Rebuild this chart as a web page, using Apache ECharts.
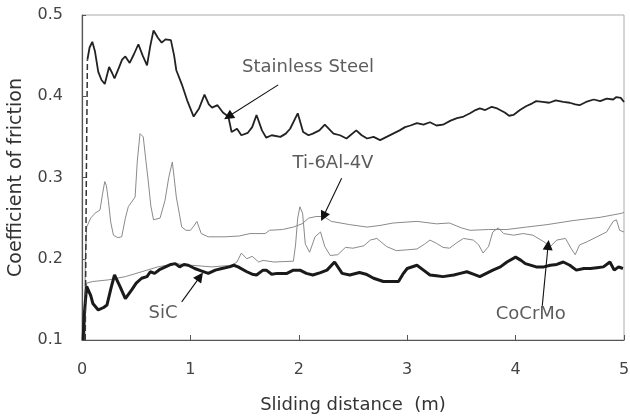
<!DOCTYPE html>
<html>
<head>
<meta charset="utf-8">
<script src="https://cdn.jsdelivr.net/npm/echarts@6/dist/echarts.min.js"></script>
<style>
  html, body { margin: 0; padding: 0; background: #fff; }
  #chart { width: 630px; height: 417px; }
</style>
</head>
<body>
<div id="chart"></div>
<script>
// 数据：滑动距离 (m) / 摩擦系数
const steelRunIn = [[0.03, 0.10], [0.04, 0.30], [0.05, 0.445]]

const stainlessSteel = [
  [0.05, 0.445], [0.07, 0.46], [0.095, 0.467], [0.12, 0.455], [0.15, 0.43], [0.18, 0.42],
  [0.21, 0.415], [0.25, 0.436], [0.28, 0.428], [0.30, 0.422], [0.34, 0.435], [0.37, 0.445],
  [0.40, 0.449], [0.44, 0.441], [0.48, 0.452], [0.52, 0.464], [0.56, 0.45], [0.60, 0.438],
  [0.63, 0.462], [0.66, 0.481], [0.70, 0.472], [0.735, 0.466], [0.77, 0.470], [0.82, 0.469],
  [0.85, 0.45], [0.87, 0.432], [0.92, 0.415], [0.97, 0.395], [1.03, 0.375], [1.08, 0.385],
  [1.13, 0.402], [1.17, 0.39], [1.20, 0.386], [1.25, 0.389], [1.30, 0.38], [1.35, 0.375],
  [1.38, 0.356], [1.43, 0.36], [1.47, 0.352], [1.53, 0.355], [1.57, 0.362], [1.61, 0.377],
  [1.66, 0.358], [1.70, 0.349], [1.75, 0.352], [1.83, 0.350], [1.88, 0.354], [1.92, 0.360],
  [1.99, 0.379], [2.04, 0.356], [2.09, 0.352], [2.13, 0.354], [2.19, 0.358], [2.24, 0.365],
  [2.32, 0.354], [2.38, 0.352], [2.44, 0.348], [2.53, 0.358], [2.58, 0.352], [2.63, 0.348],
  [2.69, 0.35], [2.75, 0.346], [2.81, 0.35], [2.87, 0.354], [2.93, 0.358], [2.98, 0.362],
  [3.03, 0.364], [3.09, 0.367], [3.15, 0.365], [3.21, 0.368], [3.27, 0.364], [3.33, 0.365],
  [3.40, 0.37], [3.46, 0.373], [3.52, 0.375], [3.58, 0.379], [3.63, 0.383], [3.67, 0.385],
  [3.72, 0.383], [3.78, 0.387], [3.83, 0.385], [3.90, 0.38], [3.94, 0.376], [3.98, 0.377],
  [4.04, 0.383], [4.10, 0.388], [4.15, 0.391], [4.19, 0.394], [4.25, 0.393], [4.31, 0.392],
  [4.37, 0.395], [4.44, 0.393], [4.50, 0.392], [4.55, 0.39], [4.59, 0.389], [4.65, 0.393],
  [4.72, 0.396], [4.78, 0.394], [4.84, 0.397], [4.90, 0.396], [4.93, 0.399], [4.97, 0.398],
  [5.0, 0.393]
]

const ti6al4v = [
  [0.025, 0.10], [0.03, 0.2], [0.043, 0.239], [0.08, 0.25], [0.12, 0.256], [0.166, 0.260],
  [0.19, 0.28], [0.21, 0.295], [0.225, 0.29], [0.243, 0.272], [0.265, 0.245], [0.29, 0.229],
  [0.33, 0.226], [0.366, 0.227], [0.40, 0.25], [0.427, 0.264], [0.458, 0.270], [0.49, 0.276],
  [0.51, 0.32], [0.535, 0.354], [0.565, 0.350], [0.59, 0.32], [0.61, 0.297], [0.635, 0.265],
  [0.66, 0.248], [0.72, 0.250], [0.766, 0.272], [0.80, 0.30], [0.833, 0.319], [0.85, 0.30],
  [0.87, 0.276], [0.92, 0.239], [0.96, 0.235], [1.0, 0.235], [1.03, 0.24], [1.06, 0.246],
  [1.10, 0.231], [1.165, 0.227], [1.32, 0.227], [1.45, 0.228], [1.55, 0.231], [1.69, 0.231],
  [1.73, 0.235], [1.85, 0.236], [1.95, 0.239], [2.03, 0.243], [2.09, 0.25], [2.16, 0.252],
  [2.23, 0.252], [2.30, 0.246], [2.47, 0.242], [2.63, 0.239], [2.75, 0.241], [2.87, 0.244],
  [3.09, 0.246], [3.27, 0.243], [3.39, 0.244], [3.50, 0.238], [3.58, 0.235], [3.75, 0.236],
  [3.92, 0.236], [4.10, 0.239], [4.29, 0.242], [4.53, 0.247], [4.78, 0.251], [4.98, 0.256],
  [5.0, 0.257]
]

const coCrMo = [
  [0.025, 0.10], [0.035, 0.16], [0.043, 0.170], [0.10, 0.172], [0.243, 0.174], [0.40, 0.178],
  [0.55, 0.184], [0.70, 0.190], [0.86, 0.194], [1.01, 0.192], [1.20, 0.190], [1.38, 0.192],
  [1.43, 0.196], [1.47, 0.207], [1.52, 0.200], [1.57, 0.203], [1.63, 0.196], [1.67, 0.198],
  [1.77, 0.196], [1.95, 0.197], [1.97, 0.217], [1.99, 0.25], [2.01, 0.264], [2.035, 0.256],
  [2.06, 0.218], [2.10, 0.208], [2.15, 0.227], [2.20, 0.233], [2.24, 0.215], [2.29, 0.204],
  [2.36, 0.205], [2.43, 0.214], [2.50, 0.213], [2.60, 0.216], [2.66, 0.223], [2.72, 0.225],
  [2.81, 0.215], [2.90, 0.21], [3.0, 0.211], [3.09, 0.212], [3.16, 0.218], [3.21, 0.223],
  [3.27, 0.219], [3.33, 0.214], [3.39, 0.213], [3.46, 0.22], [3.52, 0.225], [3.61, 0.223],
  [3.66, 0.217], [3.70, 0.207], [3.75, 0.215], [3.79, 0.233], [3.84, 0.238], [3.89, 0.231],
  [3.98, 0.229], [4.07, 0.231], [4.16, 0.229], [4.26, 0.221], [4.32, 0.215], [4.38, 0.223],
  [4.46, 0.225], [4.52, 0.211], [4.55, 0.205], [4.59, 0.217], [4.66, 0.221], [4.75, 0.227],
  [4.84, 0.233], [4.90, 0.246], [4.93, 0.248], [4.96, 0.235], [5.0, 0.233]
]

const siC = [
  [0.01, 0.10], [0.02, 0.13], [0.043, 0.166], [0.06, 0.168], [0.08, 0.155], [0.10, 0.145],
  [0.15, 0.137], [0.20, 0.14], [0.23, 0.143], [0.27, 0.165], [0.30, 0.180], [0.35, 0.166],
  [0.40, 0.151], [0.46, 0.162], [0.50, 0.170], [0.55, 0.176], [0.60, 0.178], [0.63, 0.184],
  [0.67, 0.182], [0.72, 0.187], [0.77, 0.190], [0.82, 0.193], [0.86, 0.194], [0.90, 0.190],
  [0.94, 0.193], [0.98, 0.192], [1.04, 0.188], [1.10, 0.185], [1.165, 0.182], [1.23, 0.186],
  [1.29, 0.188], [1.36, 0.190], [1.40, 0.192], [1.44, 0.190], [1.52, 0.184], [1.57, 0.181],
  [1.61, 0.180], [1.67, 0.186], [1.70, 0.186], [1.75, 0.181], [1.80, 0.182], [1.89, 0.182],
  [1.95, 0.186], [2.01, 0.186], [2.07, 0.182], [2.13, 0.180], [2.20, 0.183], [2.26, 0.186],
  [2.33, 0.196], [2.40, 0.182], [2.47, 0.180], [2.56, 0.183], [2.62, 0.181], [2.69, 0.176],
  [2.78, 0.172], [2.85, 0.172], [2.92, 0.172], [2.96, 0.181], [3.00, 0.188], [3.09, 0.192],
  [3.15, 0.186], [3.21, 0.180], [3.27, 0.179], [3.33, 0.178], [3.43, 0.180], [3.49, 0.182],
  [3.55, 0.184], [3.61, 0.181], [3.67, 0.178], [3.73, 0.182], [3.79, 0.186], [3.86, 0.19],
  [3.92, 0.196], [4.00, 0.202], [4.05, 0.198], [4.09, 0.194], [4.19, 0.190], [4.26, 0.19],
  [4.32, 0.192], [4.38, 0.193], [4.44, 0.196], [4.50, 0.192], [4.56, 0.186], [4.63, 0.188],
  [4.69, 0.188], [4.75, 0.189], [4.81, 0.190], [4.87, 0.196], [4.91, 0.186], [4.95, 0.19],
  [4.99, 0.188]
]

// 标注：文字位置 + 箭头 (起点 -> 终点)
const labelNames = ['Stainless Steel', 'Ti-6Al-4V', 'SiC', 'CoCrMo']
const labelPos = [[2.085, 0.436], [2.315, 0.317], [0.747, 0.133], [4.14, 0.131]]
const arrowFrom = [[1.81, 0.414], [2.395, 0.299], [0.92, 0.147], [4.246, 0.142]]
const arrowTo = [[1.35, 0.375], [2.226, 0.252], [1.089, 0.178], [4.30, 0.217]]

const xTicks = { min: 0, max: 5, interval: 1 }
const yTicks = { min: 0.1, max: 0.5, interval: 0.1 }

const FONT = 'DejaVu Sans'

const myChart = echarts.init(document.getElementById('chart'))

const lineSeries = (name, data, color, width, type = 'solid') => ({
  name,
  type: 'line',
  data,
  showSymbol: false,
  symbol: 'none',
  silent: true,
  lineStyle: { color, width, type },
  z: 3
})

const option = {
  animation: false,
  backgroundColor: '#fff',
  grid: {
    left: 82,
    right: 6,
    top: 15,
    bottom: 77,
    outerBoundsMode: 'none',
    containLabel: false,
    show: true,
    borderColor: '#aaa',
    borderWidth: 1
  },
  xAxis: {
    type: 'value',
    ...xTicks,
    name: 'Sliding distance  (m)',
    nameLocation: 'middle',
    nameGap: 56,
    nameTextStyle: { color: '#333', fontSize: 18, fontFamily: FONT },
    axisLine: { show: true, lineStyle: { color: '#555', width: 1.2 } },
    axisTick: { show: true, inside: true, length: 5, lineStyle: { color: '#555' } },
    axisLabel: { color: '#444', fontSize: 16, fontFamily: FONT, margin: 22 },
    splitLine: { show: false }
  },
  yAxis: {
    type: 'value',
    ...yTicks,
    name: 'Coefficient of friction',
    nameLocation: 'middle',
    nameGap: 56,
    nameTextStyle: { color: '#333', fontSize: 19, fontFamily: FONT },
    axisLine: { show: true, lineStyle: { color: '#555', width: 1.2 } },
    axisTick: { show: true, inside: true, length: 4, lineStyle: { color: '#555' } },
    axisLabel: {
      color: '#444',
      fontSize: 16,
      fontFamily: FONT,
      margin: 19,
      formatter: v => v.toFixed(1)
    },
    splitLine: { show: false }
  },
  series: [
    lineSeries('Ti-6Al-4V', ti6al4v, '#8a8a8a', 1),
    lineSeries('CoCrMo', coCrMo, '#8a8a8a', 1),
    lineSeries('SiC', siC, '#1a1a1a', 3),
    lineSeries('Stainless Steel run-in', steelRunIn, '#333', 1.5, [6, 3]),
    lineSeries('Stainless Steel', stainlessSteel, '#222', 1.8),
    // 标注文字
    {
      type: 'scatter',
      silent: true,
      symbolSize: 0,
      data: labelPos.map((p, i) => ({ value: p, name: labelNames[i] })),
      label: {
        show: true,
        position: 'inside',
        formatter: p => p.name,
        color: '#333',
        fontSize: 18,
        fontFamily: FONT
      },
      z: 5
    },
    // 标注箭头
    {
      type: 'line',
      data: [],
      silent: true,
      markLine: {
        silent: true,
        animation: false,
        symbol: ['none', 'triangle'],
        symbolSize: 10,
        label: { show: false },
        lineStyle: { color: '#111', width: 1.1, type: 'solid' },
        itemStyle: { color: '#111' },
        emphasis: { disabled: true },
        data: arrowFrom.map((f, i) => [{ coord: f }, { coord: arrowTo[i] }])
      },
      z: 6
    }
  ]
}

myChart.setOption(option, true)
</script>
</body>
</html>
